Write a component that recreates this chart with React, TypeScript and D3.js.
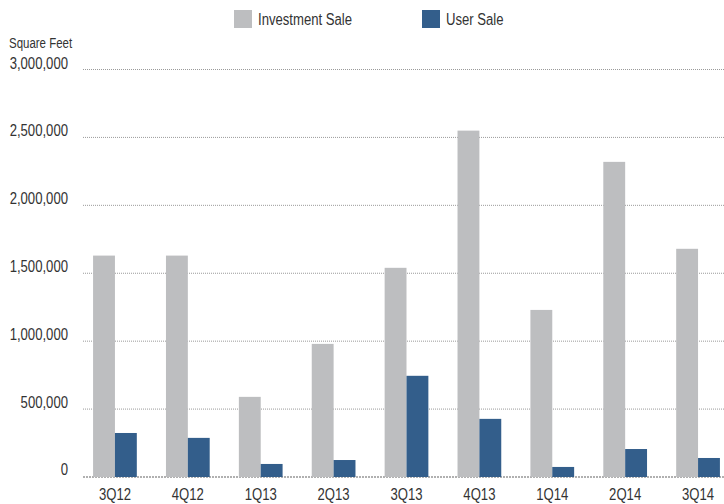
import React from "react";
import * as d3 from "d3";

const categories = ["3Q12", "4Q12", "1Q13", "2Q13", "3Q13", "4Q13", "1Q14", "2Q14", "3Q14"];
const seriesNames = ["Investment Sale", "User Sale"];
const investmentSale = [1630000, 1630000, 590000, 980000, 1540000, 2550000, 1230000, 2320000, 1680000];
const userSale = [324000, 288000, 96000, 125000, 745000, 428000, 74000, 206000, 140000];
const yTicks = [0, 500000, 1000000, 1500000, 2000000, 2500000, 3000000];
const colors = ["#BDBEC0", "#335E8B"];

const FONT = "'Liberation Sans', Arial, sans-serif";
const SQUEEZE = 0.82;

function NText({ x, y, size, anchor, children }: { x: number; y: number; size: number; anchor?: string; children: React.ReactNode }) {
  return (
    <text
      transform={`translate(${x},${y}) scale(${SQUEEZE},1)`}
      fontSize={size}
      textAnchor={anchor || "start"}
      fill="#333"
    >
      {children}
    </text>
  );
}

export default function App() {
  const W = 724, H = 504;
  const x0 = d3.scaleBand<string>().domain(categories).range([78.5, 734.5]).paddingInner(0.4).paddingOuter(0.2);
  const x1 = d3.scaleBand<string>().domain(seriesNames).range([0, x0.bandwidth()]);
  const y = d3.scaleLinear().domain([0, 3000000]).range([477, 69.5]);
  const fmt = d3.format(",");
  const series = [investmentSale, userSale];

  return (
    <svg width={W} height={H} style={{ position: "absolute", left: 0, top: 0, background: "#fff" }} fontFamily={FONT}>
      {/* legend */}
      {seriesNames.map((s, i) => {
        const lx = i === 0 ? 234 : 422;
        return (
          <g key={s}>
            <rect x={lx} y={10} width={18} height={18} fill={colors[i]} />
            <NText x={lx + 24} y={25} size={16}>{s}</NText>
          </g>
        );
      })}
      <NText x={9} y={48} size={14}>Square Feet</NText>
      {/* grid */}
      {yTicks.map((t) => (
        <g key={t}>
          <line
            x1={83}
            x2={724}
            y1={y(t)}
            y2={y(t)}
            stroke={t === 0 ? "#b0b0b0" : "#9a9a9a"}
            strokeWidth={t === 0 ? 2 : 1}
            strokeDasharray={t === 0 ? "2 1" : "1 1"}
          />
          <NText x={68} y={y(t) - (t === 0 ? 2 : 1)} size={16} anchor="end">
            {fmt(t)}
          </NText>
        </g>
      ))}
      {/* bars */}
      {categories.map((c, ci) => (
        <g key={c} transform={`translate(${x0(c)},0)`}>
          {seriesNames.map((s, si) => (
            <rect
              key={s}
              x={x1(s)}
              y={y(series[si][ci])}
              width={x1.bandwidth()}
              height={y(0) - y(series[si][ci])}
              fill={colors[si]}
            />
          ))}
          <NText x={x0.bandwidth() / 2} y={500} size={16} anchor="middle">
            {c}
          </NText>
        </g>
      ))}
    </svg>
  );
}
